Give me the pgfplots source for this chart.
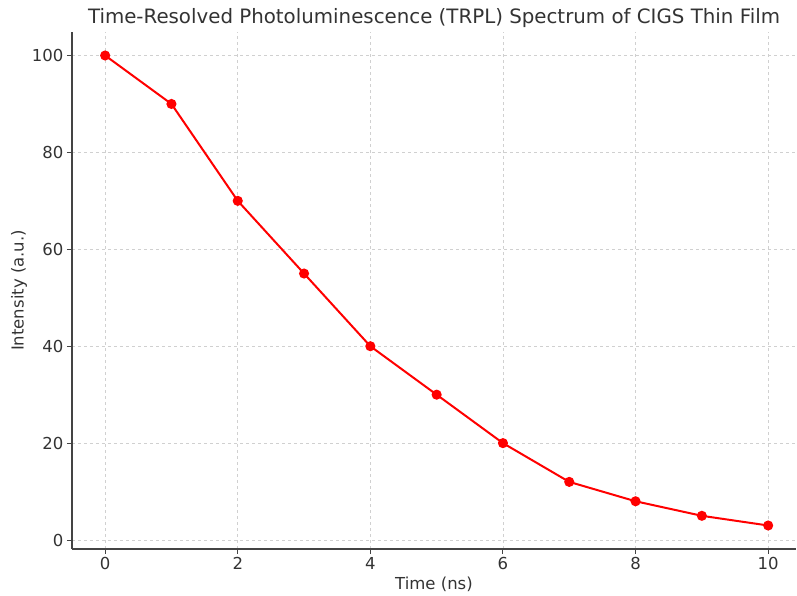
\documentclass[border=0pt]{standalone}
\usepackage{pgfplots}
\pgfplotsset{compat=1.18}
\usepackage{fontspec}
\setmainfont{DejaVu Sans}
\definecolor{txt}{HTML}{333333}
\definecolor{spine}{HTML}{444444}
\definecolor{gridc}{HTML}{D0D0D0}
\begin{document}
\begin{tikzpicture}
\useasboundingbox (-72pt,-47pt) rectangle (725pt,549pt);
\begin{axis}[
  at={(0,0)}, anchor=south west,
  scale only axis, width=724pt, height=517pt,
  xmin=-0.5, xmax=10.42, ymin=-1.85, ymax=104.85,
  axis x line*=bottom, axis y line*=left,
  axis line style={spine, line width=1.2pt, -},
  xtick={0,2,...,10}, ytick={0,20,...,100},
  tick style={spine, line width=1pt},
  tick align=outside, major tick length=5pt,
  grid=major,
  grid style={gridc, dashed, line width=0.6pt},
  tick label style={font=\fontsize{16.5}{18}\selectfont, text=txt},
  /pgf/number format/assume math mode=true,
  xlabel={Time (ns)}, ylabel={Intensity (a.u.)},
  label style={font=\fontsize{16.5}{18}\selectfont, text=txt},
  xlabel style={yshift=0pt},
  ylabel style={yshift=-2pt},
  title={Time-Resolved Photoluminescence (TRPL) Spectrum of CIGS Thin Film},
  title style={font=\fontsize{19.8}{22}\selectfont, text=txt, yshift=-5pt},
  clip=false,
]
\addplot[red, line width=2pt, mark=*, mark size=4pt, mark options={fill=red, draw=red}]
coordinates {(0,100) (1,90) (2,70) (3,55) (4,40) (5,30) (6,20) (7,12) (8,8) (9,5) (10,3)};
\end{axis}
\end{tikzpicture}
\end{document}
